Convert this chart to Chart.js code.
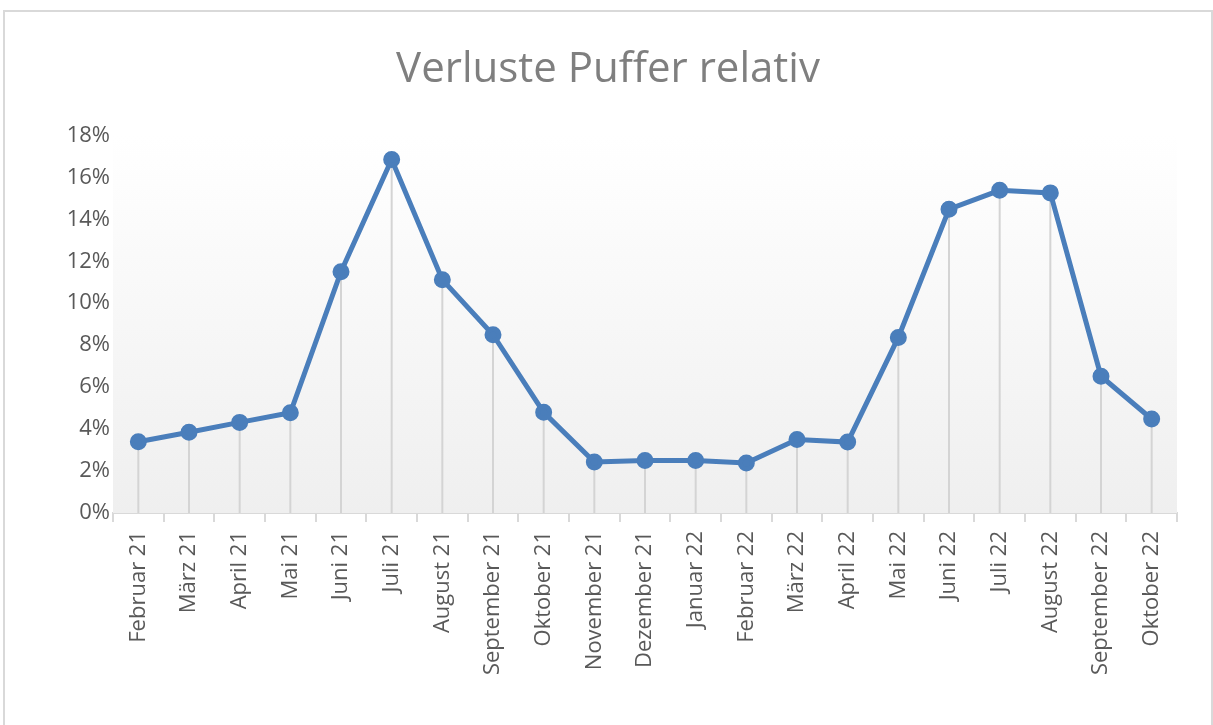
<!DOCTYPE html>
<html>
<head>
<meta charset="utf-8">
<script src="https://cdn.jsdelivr.net/npm/chart.js@4.4.0/dist/chart.umd.min.js"></script>
<style>
  html, body { margin: 0; padding: 0; background: #fff; overflow: hidden; }
  #frame {
    position: absolute; left: 3px; top: 10px;
    width: 1206px; height: 713px;
    border: 2px solid #d9d9d9; border-bottom: none;
  }
  canvas { display: block; }
</style>
</head>
<body>
<div id="frame"><canvas id="chart" width="1206" height="713"></canvas></div>
<script>
const months = [
  "Februar 21", "März 21", "April 21", "Mai 21", "Juni 21", "Juli 21",
  "August 21", "September 21", "Oktober 21", "November 21", "Dezember 21",
  "Januar 22", "Februar 22", "März 22", "April 22", "Mai 22", "Juni 22",
  "Juli 22", "August 22", "September 22", "Oktober 22"
];
// Verluste in Prozent
const verluste = [
  3.4, 3.85, 4.32, 4.78, 11.5, 16.85, 11.12, 8.5, 4.8, 2.43, 2.5,
  2.5, 2.38, 3.5, 3.38, 8.37, 14.48, 15.38, 15.26, 6.52, 4.48
];
const yMax = 18;
const yStep = 2;

const lineBlue = "#4a7ebb";
const textGray = "#595959";
const lightGray = "#d9d9d9";

// background gradient + drop lines from each point down to 0
const plotDeco = {
  id: "plotDeco",
  beforeDatasetsDraw(chart) {
    const ctx = chart.ctx;
    const area = chart.chartArea;
    const y = chart.scales.y;
    const g = ctx.createLinearGradient(0, area.top, 0, area.bottom);
    g.addColorStop(0, "#ffffff");
    g.addColorStop(1, "#efefef");
    ctx.save();
    ctx.fillStyle = g;
    ctx.fillRect(area.left, area.top, area.right - area.left, area.bottom - area.top);

    const meta = chart.getDatasetMeta(0);
    ctx.strokeStyle = "#d4d4d4";
    ctx.lineWidth = 2;
    meta.data.forEach(pt => {
      ctx.beginPath();
      ctx.moveTo(pt.x, pt.y);
      ctx.lineTo(pt.x, y.getPixelForValue(0));
      ctx.stroke();
    });
    ctx.restore();
  }
};

new Chart(document.getElementById("chart"), {
  type: "line",
  data: {
    labels: months,
    datasets: [{
      data: verluste,
      borderColor: lineBlue,
      backgroundColor: lineBlue,
      borderWidth: 5,
      pointRadius: 6,
      pointBackgroundColor: lineBlue,
      pointBorderColor: lineBlue,
      tension: 0
    }]
  },
  options: {
    responsive: false,
    animation: false,
    layout: { padding: 0 },
    plugins: {
      legend: { display: false },
      tooltip: { enabled: false },
      title: {
        display: true,
        text: "Verluste Puffer relativ",
        color: "#7f7f7f",
        font: { family: "Open Sans", size: 42, weight: "normal" },
        padding: { top: 33, bottom: 40 }
      }
    },
    scales: {
      x: {
        offset: true,
        grid: {
          offset: true,
          drawOnChartArea: false,
          drawTicks: true,
          tickLength: 9,
          color: lightGray,
          lineWidth: 2
        },
        border: { color: lightGray, width: 2 },
        ticks: {
          color: textGray,
          font: { family: "Open Sans", size: 22 },
          minRotation: 90,
          maxRotation: 90,
          autoSkip: false,
          padding: 9
        },
        afterFit(scale) { scale.height = 212; }
      },
      y: {
        min: 0,
        max: yMax,
        grid: { display: false, drawTicks: false },
        border: { display: false },
        ticks: {
          stepSize: yStep,
          color: textGray,
          font: { family: "Open Sans", size: 22 },
          padding: 3,
          callback: v => v + "%"
        },
        afterFit(scale) { scale.width = 108; }
      },
      // empty right-hand spacer so the title stays centred on the frame
      spacer: {
        position: "right",
        min: 0,
        max: yMax,
        grid: { display: false, drawTicks: false },
        border: { display: false },
        ticks: { display: false },
        afterFit(scale) { scale.width = 34; }
      }
    }
  },
  plugins: [plotDeco]
});
</script>
</body>
</html>
